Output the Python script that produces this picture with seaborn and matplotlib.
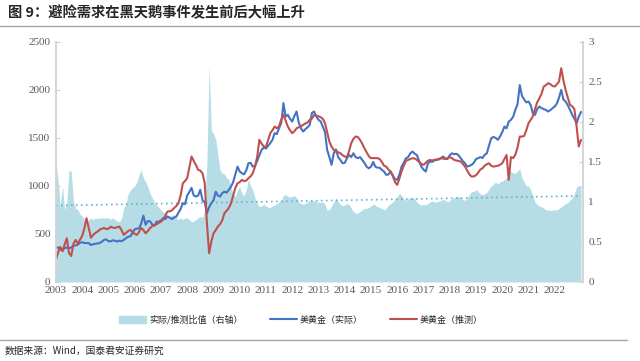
import numpy as np
import pandas as pd
import seaborn as sns
import matplotlib
matplotlib.use('Agg')
import matplotlib.pyplot as plt
from matplotlib.patches import Patch
from matplotlib.lines import Line2D

sns.set_theme(style='white')
plt.rcParams['font.family'] = ['Noto Sans CJK SC', 'DejaVu Sans']

# monthly points, Jan 2003 .. Jan 2023
gold_actual = [
    356, 359, 340, 328, 355, 356, 351, 359, 378, 379, 389, 407,
    414, 405, 406, 404, 384, 392, 398, 400, 405, 420, 439, 442,
    424, 423, 434, 429, 421, 430, 424, 438, 456, 470, 476, 510,
    549, 555, 557, 610, 690, 596, 633, 632, 598, 585, 627, 629,
    640, 665, 655, 680, 670, 655, 670, 680, 720, 760, 820, 810,
    900, 940, 980, 900, 889, 900, 960, 850, 830, 715, 780, 820,
    850, 940, 900, 889, 924, 940, 930, 958, 993, 1040, 1120, 1201,
    1150, 1132, 1120, 1160, 1236, 1240, 1201, 1210, 1260, 1320, 1375, 1400,
    1390, 1420, 1445, 1480, 1549, 1540, 1600, 1653, 1862, 1722, 1740, 1700,
    1670, 1730, 1775, 1660, 1601, 1566, 1590, 1610, 1636, 1760, 1775, 1722,
    1688, 1670, 1618, 1560, 1375, 1300, 1219, 1340, 1380, 1300, 1271, 1236,
    1240, 1290, 1323, 1300, 1340, 1300, 1289, 1300, 1271, 1240, 1200, 1184,
    1200, 1250, 1201, 1190, 1190, 1167, 1150, 1115, 1120, 1150, 1110, 1070,
    1063, 1120, 1201, 1240, 1289, 1300, 1340, 1358, 1335, 1320, 1260, 1201,
    1170, 1150, 1230, 1254, 1250, 1265, 1271, 1275, 1290, 1306, 1285, 1280,
    1320, 1340, 1330, 1335, 1320, 1290, 1260, 1236, 1200, 1210, 1219, 1240,
    1280, 1289, 1300, 1290, 1323, 1340, 1420, 1497, 1510, 1500, 1480, 1514,
    1560, 1618, 1600, 1670, 1688, 1720, 1792, 1850, 2050, 1940, 1900, 1870,
    1879, 1840, 1758, 1740, 1800, 1827, 1810, 1800, 1790, 1775, 1790, 1810,
    1827, 1860, 1920, 2000, 1900, 1879, 1840, 1792, 1740, 1700, 1653, 1720,
    1770,
]

gold_model = [
    240, 310, 365, 320, 390, 455, 300, 270, 400, 437, 400, 440,
    480, 560, 663, 560, 460, 490, 510, 524, 545, 555, 562, 550,
    555, 575, 565, 562, 570, 576, 540, 490, 510, 530, 542, 520,
    500, 490, 520, 562, 540, 507, 530, 560, 580, 594, 600, 615,
    628, 650, 690, 733, 735, 745, 768, 790, 820, 900, 1028, 1050,
    1083, 1200, 1306, 1260, 1219, 1167, 1160, 1130, 1028, 611, 299, 420,
    507, 540, 576, 600, 640, 715, 740, 770, 820, 900, 980, 1028,
    1040, 1063, 1050, 1055, 1080, 1100, 1132, 1200, 1306, 1480, 1440, 1410,
    1410, 1480, 1549, 1580, 1618, 1600, 1620, 1690, 1740, 1680, 1618, 1580,
    1549, 1570, 1600, 1610, 1620, 1636, 1650, 1660, 1688, 1700, 1740, 1730,
    1725, 1715, 1700, 1653, 1560, 1462, 1410, 1375, 1360, 1350, 1340, 1320,
    1306, 1300, 1360, 1445, 1490, 1514, 1510, 1480, 1440, 1393, 1350, 1310,
    1289, 1290, 1289, 1289, 1280, 1250, 1210, 1201, 1170, 1150, 1100, 1040,
    1011, 1080, 1150, 1210, 1260, 1271, 1280, 1289, 1285, 1270, 1250, 1230,
    1219, 1240, 1260, 1271, 1265, 1271, 1275, 1280, 1289, 1285, 1280, 1290,
    1300, 1290, 1271, 1265, 1260, 1254, 1230, 1201, 1160, 1120, 1097, 1100,
    1110, 1140, 1170, 1184, 1210, 1225, 1236, 1210, 1201, 1205, 1210, 1220,
    1236, 1280, 1323, 1063, 1300, 1290, 1323, 1400, 1514, 1514, 1520, 1580,
    1653, 1690, 1722, 1800, 1870, 1913, 1960, 2035, 2050, 2070, 2060, 2040,
    2035, 2060, 2087, 2226, 2100, 2000, 1920, 1844, 1830, 1800, 1618, 1410,
    1480,
]

ratio = [
    1.50, 1.25, 0.95, 1.20, 0.90, 1.00, 1.40, 1.38, 1.00, 0.92, 0.90, 0.85,
    0.82, 0.78, 0.72, 0.78, 0.80, 0.78, 0.80, 0.79, 0.80, 0.80, 0.80, 0.80,
    0.80, 0.78, 0.80, 0.78, 0.76, 0.75, 0.80, 0.92, 0.98, 1.10, 1.15, 1.18,
    1.20, 1.25, 1.34, 1.40, 1.30, 1.25, 1.19, 1.11, 1.05, 1.00, 0.96, 0.93,
    0.90, 0.87, 0.86, 0.84, 0.82, 0.83, 0.84, 0.80, 0.78, 0.80, 0.78, 0.80,
    0.80, 0.78, 0.75, 0.76, 0.78, 0.80, 0.82, 0.80, 0.90, 1.50, 2.70, 1.90,
    1.85, 1.78, 1.60, 1.40, 1.36, 1.35, 1.30, 1.28, 1.19, 1.10, 1.07, 1.15,
    1.19, 1.10, 1.08, 1.15, 1.28, 1.20, 1.15, 1.05, 0.98, 0.94, 0.95, 0.97,
    0.95, 0.93, 0.93, 0.95, 0.96, 0.98, 1.00, 1.02, 1.08, 1.09, 1.07, 1.06,
    1.07, 1.08, 1.05, 1.00, 0.98, 0.97, 0.98, 1.00, 1.02, 1.01, 1.02, 1.00,
    1.00, 0.99, 1.00, 0.97, 0.90, 0.90, 0.95, 1.00, 1.05, 1.00, 0.97, 0.95,
    0.96, 0.98, 0.97, 0.92, 0.88, 0.86, 0.86, 0.88, 0.90, 0.92, 0.92, 0.93,
    0.95, 0.97, 0.96, 0.94, 0.93, 0.92, 0.90, 0.92, 0.96, 0.98, 1.00, 1.03,
    1.07, 1.11, 1.08, 1.04, 1.02, 1.04, 1.05, 1.06, 1.04, 1.00, 0.97, 0.96,
    0.97, 0.96, 0.98, 1.00, 1.01, 1.00, 1.00, 1.01, 1.02, 1.03, 1.02, 1.00,
    1.02, 1.04, 1.05, 1.06, 1.07, 1.05, 1.03, 1.02, 1.05, 1.09, 1.13, 1.13,
    1.15, 1.13, 1.10, 1.09, 1.10, 1.12, 1.16, 1.20, 1.22, 1.25, 1.22, 1.25,
    1.26, 1.28, 1.30, 1.40, 1.38, 1.36, 1.36, 1.38, 1.42, 1.30, 1.25, 1.20,
    1.20, 1.15, 1.08, 1.00, 0.97, 0.95, 0.94, 0.92, 0.90, 0.90, 0.89, 0.90,
    0.90, 0.90, 0.92, 0.94, 0.96, 0.98, 0.99, 1.02, 1.05, 1.10, 1.19, 1.20,
    1.21,
]

trend_dates = ['2003-01-01', '2023-01-01']
trend_vals = [0.955, 1.075]

years = list(range(2003, 2023))

dates = pd.date_range('2003-01-01', periods=len(gold_actual), freq='MS')
df = pd.DataFrame({'date': dates, 'actual': gold_actual,
                   'model': gold_model, 'ratio': ratio})

fig = plt.figure(figsize=(6.4, 3.61), dpi=100)
ax = fig.add_axes([0.0875, 0.219, 0.823, 0.665])
ax2 = ax.twinx()

# area + trend on right axis
ax2.fill_between(df['date'], 0, df['ratio'], color='#b6dce6', lw=0)
ax2.plot(pd.to_datetime(trend_dates), trend_vals, color='#5fb8d3',
         lw=1.2, ls=(0, (1, 2)))

sns.lineplot(data=df, x='date', y='actual', ax=ax, color='#4472c4', lw=1.5)
sns.lineplot(data=df, x='date', y='model', ax=ax, color='#c0504d', lw=1.5)

ax.set_zorder(ax2.get_zorder() + 1)
ax.patch.set_visible(False)

ax.set_ylim(0, 2500)
ax2.set_ylim(0, 3)
ax.set_yticks(range(0, 2501, 500))
ax2.set_yticks([0, 0.5, 1, 1.5, 2, 2.5, 3])
ax2.set_yticklabels(['0', '0.5', '1', '1.5', '2', '2.5', '3'])
ax.set_xlim(pd.Timestamp('2003-01-01'), pd.Timestamp('2023-01-25'))
ax.set_xticks([pd.Timestamp(f'{y}-01-01') for y in years])
ax.set_xticklabels([str(y) for y in years])
ax.set_xlabel('')
ax.set_ylabel('')

for a in (ax, ax2):
    a.tick_params(direction='in', length=3, color='#d0d0d0', width=0.8,
                  pad=4, labelsize=8, labelcolor='#595959',
                  labelfontfamily='Liberation Serif')
    for s in a.spines.values():
        s.set_visible(False)
ax.tick_params(axis='x', pad=3)
ax.spines['left'].set_visible(True)
ax.spines['left'].set_color('#d0d0d0')
ax2.spines['right'].set_visible(True)
ax2.spines['right'].set_color('#d0d0d0')
ax.tick_params(axis='y', left=True)
ax.tick_params(axis='x', bottom=True)
ax2.tick_params(axis='y', right=True)

handles = [Patch(color='#b6dce6'),
           Line2D([], [], color='#4472c4', lw=1.5),
           Line2D([], [], color='#c0504d', lw=1.5)]
labels = ['实际/推测比值（右轴）', '美黄金（实际）', '美黄金（推测）']
fig.legend(handles, labels, loc='center', bbox_to_anchor=(0.47, 0.114),
           ncol=3, frameon=False, handlelength=3,
           columnspacing=3, handletextpad=0.3,
           prop={'family': ['Noto Sans CJK SC', 'DejaVu Sans'], 'size': 6.5})

fig.text(0.012, 0.965, '图 9：避险需求在黑天鹅事件发生前后大幅上升',
         fontsize=10.3, fontweight='bold', va='center', ha='left')
fig.add_artist(Line2D([0.0, 1.0], [0.928, 0.928], color='#a6a6a6', lw=1.0))
fig.add_artist(Line2D([0.0, 0.98], [0.058, 0.058], color='#a6a6a6', lw=1.0))
fig.text(0.008, 0.028, '数据来源：Wind，国泰君安证券研究',
         fontsize=7, va='center', ha='left')

fig.savefig('out.png', dpi=100)
